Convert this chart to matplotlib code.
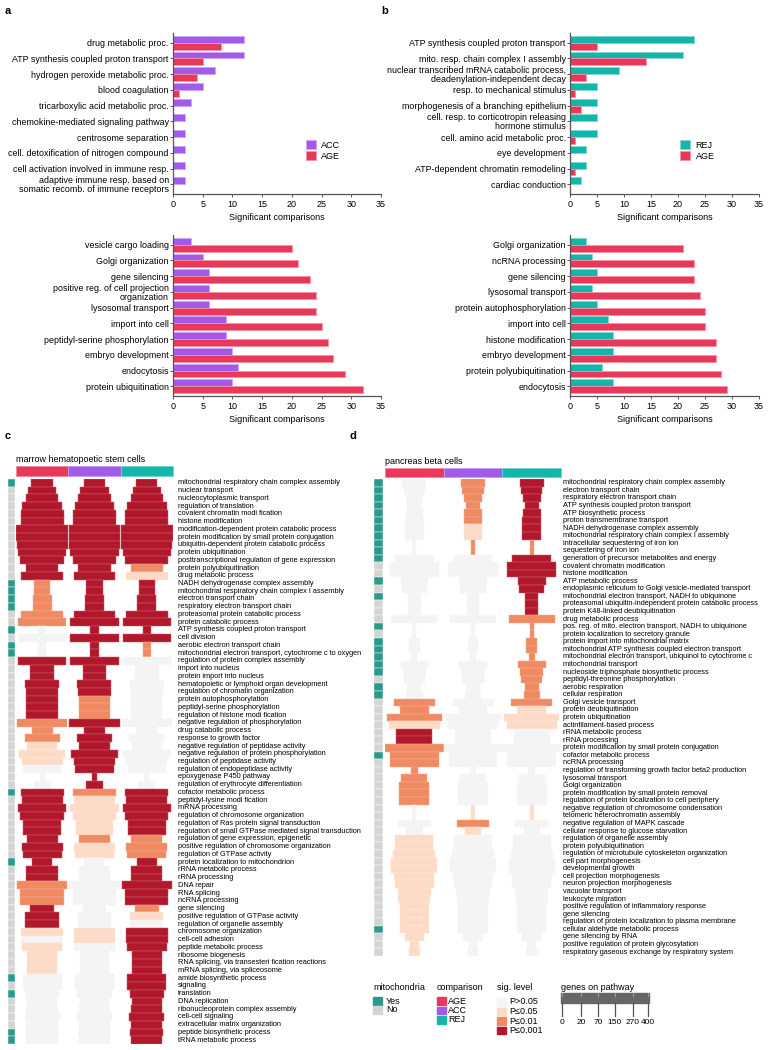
import numpy as np
import matplotlib.pyplot as plt
from matplotlib.colors import to_rgb

plt.rcParams['font.family'] = ['Liberation Sans', 'DejaVu Sans']

# ---- colours
col_age = '#e9385a'
col_acc = '#a25be8'
col_rej = '#14b6aa'
sig_colors = ['#f4f4f4', '#fddbc7', '#ef8a62', '#b2182b']
sig_labels = ['P>0.05', 'P\u22640.05', 'P\u22640.01', 'P\u22640.001']
mito_colors = ['#d4d4d4', '#2a9a8b']

# ---- panel a / b bar data
a_top_cats = ['drug metabolic proc.', 'ATP synthesis coupled proton transport',
              'hydrogen peroxide metabolic proc.', 'blood coagulation',
              'tricarboxylic acid metabolic proc.', 'chemokine-mediated signaling pathway',
              'centrosome separation', 'cell. detoxification of nitrogen compound',
              'cell activation involved in immune resp.',
              'adaptive immune resp. based on\nsomatic recomb. of immune receptors']
a_top_acc = [12, 12, 7, 5, 3, 2, 2, 2, 2, 2]
a_top_age = [8, 5, 4, 1, 0, 0, 0, 0, 0, 0]

a_bot_cats = ['vesicle cargo loading', 'Golgi organization', 'gene silencing',
              'positive reg. of cell projection\norganization', 'lysosomal transport',
              'import into cell', 'peptidyl-serine phosphorylation', 'embryo development',
              'endocytosis', 'protein ubiquitination']
a_bot_acc = [3, 5, 6, 6, 6, 9, 9, 10, 11, 10]
a_bot_age = [20, 21, 23, 24, 24, 25, 26, 27, 29, 32]

b_top_cats = ['ATP synthesis coupled proton transport', 'mito. resp. chain complex I assembly',
              'nuclear transcribed mRNA catabolic process,\ndeadenylation-independent decay',
              'resp. to mechanical stimulus', 'morphogenesis of a branching epithelium',
              'cell. resp. to corticotropin releasing\nhormone stimulus',
              'cell. amino acid metabolic proc.', 'eye development',
              'ATP-dependent chromatin remodeling', 'cardiac conduction']
b_top_rej = [23, 21, 9, 5, 5, 5, 5, 3, 3, 2]
b_top_age = [5, 14, 3, 1, 2, 0, 1, 0, 1, 0]

b_bot_cats = ['Golgi organization', 'ncRNA processing', 'gene silencing', 'lysosomal transport',
              'protein autophosphorylation', 'import into cell', 'histone modification',
              'embryo development', 'protein polyubiquitination', 'endocytosis']
b_bot_rej = [3, 4, 5, 4, 5, 7, 8, 8, 6, 8]
b_bot_age = [21, 23, 23, 24, 25, 25, 27, 27, 28, 29]

# ---- panel c data (marrow hematopoetic stem cells)
c_terms = [
    'mitochondrial respiratory chain complex assembly', 'nuclear transport',
    'nucleocytoplasmic transport', 'regulation of translation',
    'covalent chromatin modi fication', 'histone modification',
    'modification-dependent protein catabolic process',
    'protein modification by small protein conjugation',
    'ubiquitin-dependent protein catabolic process', 'protein ubiquitination',
    'posttranscriptional regulation of gene expression', 'protein polyubiquitination',
    'drug metabolic process', 'NADH dehydrogenase complex assembly',
    'mitochondrial respiratory chain complex I assembly', 'electron transport chain',
    'respiratory electron transport chain', 'proteasomal protein catabolic process',
    'protein catabolic process', 'ATP synthesis coupled proton transport', 'cell division',
    'aerobic electron transport chain',
    'mitochondrial electron transport, cytochrome c to oxygen',
    'regulation of protein complex assembly', 'import into nucleus',
    'protein import into nucleus', 'hematopoietic or lymphoid organ development',
    'regulation of chromatin organization', 'protein autophosphorylation',
    'peptidyl-serine phosphorylation', 'regulation of histone modi fication',
    'negative regulation of phosphorylation', 'drug catabolic process',
    'response to growth factor', 'negative regulation of peptidase activity',
    'negative regulation of protein phosphorylation', 'regulation of peptidase activity',
    'regulation of endopeptidase activity', 'epoxygenase P450 pathway',
    'regulation of erythrocyte differentiation', 'cofactor metabolic process',
    'peptidyl-lysine modi fication', 'mRNA processing',
    'regulation of chromosome organization', 'regulation of Ras protein signal transduction',
    'regulation of small GTPase mediated signal transduction',
    'regulation of gene expression, epigenetic', 'positive regulation of chromosome organization',
    'regulation of GTPase activity', 'protein localization to mitochondrion',
    'rRNA metabolic process', 'rRNA processing', 'DNA repair', 'RNA splicing',
    'ncRNA processing', 'gene silencing', 'positive regulation of GTPase activity',
    'regulation of organelle assembly', 'chromosome organization', 'cell-cell adhesion',
    'peptide metabolic process', 'ribosome biogenesis',
    'RNA splicing, via transesteri fication reactions', 'mRNA splicing, via spliceosome',
    'amide biosynthetic process', 'signaling', 'translation', 'DNA replication',
    'ribonucleoprotein complex assembly', 'cell-cell signaling',
    'extracellular matrix organization', 'peptide biosynthetic process',
    'tRNA metabolic process']
c_genes = [67, 117, 154, 231, 269, 269, 392, 392, 376, 339,
           276, 154, 256, 38, 38, 52, 52, 256, 339, 10,
           339, 10, 10, 339, 81, 81, 169, 154, 144, 144,
           144, 369, 64, 180, 135, 317, 243, 213, 4, 41,
           269, 243, 339, 276, 207, 207, 139, 243, 225, 58,
           144, 144, 369, 276, 276, 81, 164, 164, 256, 256,
           237, 130, 130, 130, 225, 225, 174, 130, 144, 180,
           144, 164, 144]
c_sig_age = [3, 3, 3, 3, 3, 3, 3, 3, 3, 3,
             3, 3, 3, 2, 2, 2, 2, 2, 2, 0,
             0, 0, 0, 3, 3, 3, 3, 3, 3, 3,
             3, 2, 2, 2, 1, 1, 1, 0, 0, 0,
             3, 3, 3, 3, 3, 3, 3, 3, 3, 3,
             3, 3, 2, 2, 2, 3, 3, 3, 1, 0,
             1, 1, 1, 1, 0, 0, 0, 0, 0, 0,
             0, 0, 0]
c_sig_acc = [3, 3, 3, 3, 3, 3, 3, 3, 3, 3,
             3, 3, 3, 3, 3, 3, 3, 3, 3, 3,
             3, 3, 3, 3, 3, 3, 3, 3, 2, 2,
             2, 3, 3, 3, 3, 3, 3, 3, 3, 3,
             2, 1, 1, 1, 1, 1, 2, 1, 1, 0,
             0, 0, 0, 0, 0, 0, 0, 0, 1, 1,
             0, 0, 0, 0, 0, 0, 0, 0, 0, 0,
             0, 0, 0]
c_sig_rej = [3, 3, 3, 3, 3, 3, 3, 3, 3, 3,
             3, 2, 1, 3, 3, 3, 3, 3, 3, 3,
             3, 2, 2, 0, 0, 0, 0, 0, 0, 0,
             0, 0, 0, 0, 0, 0, 0, 0, 0, 0,
             3, 3, 3, 3, 3, 3, 2, 2, 2, 3,
             3, 3, 3, 3, 3, 2, 1, 0, 3, 3,
             3, 3, 3, 3, 3, 3, 3, 3, 3, 3,
             3, 3, 3]
c_mito = [1, 0, 0, 0, 0, 0, 0, 0, 0, 0,
          0, 0, 0, 1, 1, 1, 1, 0, 0, 1,
          0, 1, 1, 0, 0, 0, 0, 0, 0, 0,
          0, 0, 0, 0, 0, 0, 0, 0, 0, 0,
          1, 0, 0, 0, 0, 0, 0, 0, 0, 1,
          0, 0, 0, 0, 0, 0, 0, 0, 0, 0,
          0, 0, 0, 0, 1, 0, 1, 0, 0, 0,
          0, 1, 1]

# ---- panel d data (pancreas beta cells)
d_terms = [
    'mitochondrial respiratory chain complex assembly', 'electron transport chain',
    'respiratory electron transport chain', 'ATP synthesis coupled proton transport',
    'ATP biosynthetic process', 'proton transmembrane transport',
    'NADH dehydrogenase complex assembly', 'mitochondrial respiratory chain complex I assembly',
    'intracellular sequestering of iron ion', 'sequestering of iron ion',
    'generation of precursor metabolites and energy', 'covalent chromatin modification',
    'histone modification', 'ATP metabolic process',
    'endoplasmic reticulum to Golgi vesicle-mediated transport',
    'mitochondrial electron transport, NADH to ubiquinone',
    'proteasomal ubiquitin-independent protein catabolic process',
    'protein K48-linked deubiquitination', 'drug metabolic process',
    'pos. reg. of mito. electron transport, NADH to ubiquinone',
    'protein localization to secretory granule', 'protein import into mitochondrial matrix',
    'mitochondrial ATP synthesis coupled electron transport',
    'mitochondrial electron transport, ubiquinol to cytochrome c', 'mitochondrial transport',
    'nucleoside triphosphate biosynthetic process', 'peptidyl-threonine phosphorylation',
    'aerobic respiration', 'cellular respiration', 'Golgi vesicle transport',
    'protein deubiquitination', 'protein ubiquitination', 'actinfilament-based process',
    'rRNA metabolic process', 'rRNA processing',
    'protein modification by small protein conjugation', 'cofactor metabolic process',
    'ncRNA processing', 'regulation of transforming growth factor beta2 production',
    'lysosomal transport', 'Golgi organization',
    'protein modification by small protein removal',
    'regulation of protein localization to cell periphery',
    'negative regulation of chromosome condensation', 'telomeric heterochromatin assembly',
    'negative regulation of MAPK cascade', 'cellular response to glucose starvation',
    'regulation of organelle assembly', 'protein polyubiquitination',
    'regulation of microtubule cytoskeleton organization', 'cell part morphogenesis',
    'developmental growth', 'cell projection morphogenesis', 'neuron projection morphogenesis',
    'vacuolar transport', 'leukocyte migration', 'positive regulation of inflammatory response',
    'gene silencing', 'regulation of protein localization to plasma membrane',
    'cellular aldehyde metabolic process', 'gene silencing by RNA',
    'positive regulation of protein glycosylation',
    'respiratory gaseous exchange by respiratory system']
d_genes = [67, 52, 36, 23, 36, 41, 41, 41, 2, 2,
           174, 282, 282, 88, 74, 19, 19, 19, 243, 2,
           2, 13, 13, 4, 88, 64, 52, 23, 31, 196,
           96, 353, 296, 149, 149, 400, 276, 276, 5, 77,
           104, 104, 104, 2, 2, 125, 31, 169, 169, 202,
           243, 243, 185, 174, 130, 117, 100, 100, 100, 100,
           44, 9, 13]
d_sig_age = [0, 0, 0, 0, 0, 0, 0, 0, 0, 0,
             0, 0, 0, 0, 0, 0, 0, 0, 0, 0,
             0, 0, 0, 0, 0, 0, 0, 0, 0, 2,
             2, 2, 1, 3, 3, 2, 2, 2, 2, 2,
             2, 2, 2, 0, 0, 0, 0, 1, 1, 1,
             1, 1, 1, 1, 1, 1, 1, 1, 1, 1,
             1, 1, 1]
d_sig_acc = [2, 2, 2, 2, 2, 2, 1, 1, 2, 2,
             0, 0, 0, 0, 0, 0, 0, 0, 0, 0,
             0, 0, 0, 0, 0, 0, 0, 0, 0, 0,
             0, 0, 0, 0, 0, 0, 0, 0, 0, 0,
             0, 0, 0, 1, 1, 2, 1, 0, 0, 0,
             0, 0, 0, 0, 0, 0, 0, 0, 0, 0,
             0, 0, 0]
d_sig_rej = [3, 3, 3, 3, 3, 3, 3, 3, 2, 2,
             3, 3, 3, 3, 3, 3, 3, 3, 2, 2,
             2, 2, 2, 2, 2, 2, 2, 2, 2, 2,
             1, 1, 1, 0, 0, 0, 0, 0, 0, 0,
             0, 0, 0, 1, 1, 0, 0, 0, 0, 0,
             0, 0, 0, 0, 0, 0, 0, 0, 0, 0,
             0, 0, 0]
d_mito = [1, 1, 1, 1, 1, 1, 1, 1, 1, 1,
          1, 0, 0, 1, 0, 1, 0, 0, 0, 1,
          0, 1, 1, 1, 1, 1, 0, 1, 1, 0,
          0, 0, 0, 0, 0, 0, 1, 0, 0, 0,
          0, 0, 0, 0, 0, 0, 0, 0, 0, 0,
          0, 0, 0, 0, 0, 0, 0, 0, 0, 1,
          0, 0, 0]

comparisons = ['AGE', 'ACC', 'REJ']
gene_ticks = [0, 20, 70, 150, 270, 400]
gene_max = 400

W, H = 769, 1050
fig = plt.figure(figsize=(W / 100, H / 100), dpi=100)


def rect(x0, y0, x1, y1):
    return [x0 / W, 1 - y1 / H, (x1 - x0) / W, (y1 - y0) / H]


def lighten(c, f):
    r = np.array(to_rgb(c))
    return tuple(r + (1 - r) * f)


def bar_panel(box, cats, v1, v2, c1, c2, n1, n2, leg=None):
    ax = fig.add_axes(rect(*box))
    y = np.arange(len(cats))
    for vals, c, off, name in [(v1, c1, -0.22, n1), (v2, c2, 0.22, n2)]:
        vals = np.array(vals, dtype=float)
        m = vals > 0
        ax.barh(y[m] + off, vals[m], height=0.44, color=c, edgecolor=lighten(c, 0.45),
                linewidth=0.6, label=name)
    ax.set_xlim(0, 35)
    ax.set_ylim(len(cats) - 1 + 0.62, -0.62)
    ax.set_xticks(range(0, 36, 5))
    ax.set_yticks(y)
    ax.set_yticklabels(cats, fontsize=6.4, linespacing=0.95)
    ax.tick_params(axis='x', labelsize=6.5, length=2.5, width=0.7, color='#555555', pad=1.5)
    ax.tick_params(axis='y', length=2, width=0.7, color='#555555', pad=1)
    for s in ['top', 'right']:
        ax.spines[s].set_visible(False)
    for s in ['left', 'bottom']:
        ax.spines[s].set_color('#555555')
        ax.spines[s].set_linewidth(0.9)
    ax.set_xlabel('Significant comparisons', fontsize=6.5, labelpad=3)
    if leg is not None:
        ax.legend(loc='center left', bbox_to_anchor=leg, frameon=False, fontsize=6.5,
                  handlelength=1.1, handleheight=1.2, handletextpad=0.6, labelspacing=0.15)
    return ax


bar_panel((173, 33, 381, 194), a_top_cats, a_top_acc, a_top_age, col_acc, col_age,
          'ACC', 'AGE', leg=(0.6, 0.27))
bar_panel((570, 33, 759, 194), b_top_cats, b_top_rej, b_top_age, col_rej, col_age,
          'REJ', 'AGE', leg=(0.54, 0.27))
bar_panel((173, 235, 381, 396), a_bot_cats, a_bot_acc, a_bot_age, col_acc, col_age,
          'ACC', 'AGE')
bar_panel((570, 235, 759, 396), b_bot_cats, b_bot_rej, b_bot_age, col_rej, col_age,
          'REJ', 'AGE')


def heat_panel(x0, col_w, y0, row_h, title, terms, genes, sigs, mito, mito_x, lab_gap,
               strip_y):
    n = len(terms)
    ax = fig.add_axes(rect(x0, y0, x0 + 3 * col_w, y0 + n * row_h))
    ax.set_xlim(0, 3)
    ax.set_ylim(n, 0)
    ax.axis('off')
    rows = np.arange(n) + 0.5
    frac = np.sqrt(np.array(genes) / gene_max)
    for j, s in enumerate(sigs):
        cols = [sig_colors[k] for k in s]
        ax.barh(rows, frac, left=j + 0.5 - frac / 2, height=1.0, color=cols,
                edgecolor=[lighten(c, 0.3) for c in cols], linewidth=0.35)
    # comparison colour strip
    s0, s1 = (strip_y[0] - y0) / row_h, (strip_y[1] - y0) / row_h
    ax.bar(np.arange(3) + 0.5, s1 - s0, bottom=s0, width=1.0,
           color=[col_age, col_acc, col_rej],
           edgecolor=[lighten(c, 0.4) for c in [col_age, col_acc, col_rej]],
           linewidth=0.6, clip_on=False)
    ax.text(0, s0 - 1.8 / row_h, title, fontsize=6.5, va='bottom', ha='left')
    # mitochondria strip
    mx0, mx1 = (mito_x[0] - x0) / col_w, (mito_x[1] - x0) / col_w
    ax.barh(rows, mx1 - mx0, left=mx0, height=1.0,
            color=[mito_colors[m] for m in mito], edgecolor='white', linewidth=0.3,
            clip_on=False)
    for r, t in zip(rows, terms):
        ax.text(3 + lab_gap / col_w, r, t, fontsize=5.3, va='center', ha='left',
                clip_on=False)
    return ax


heat_panel(16, 52.3, 479, 7.74, 'marrow hematopoetic stem cells', c_terms, c_genes,
           [c_sig_age, c_sig_acc, c_sig_rej], c_mito, (8, 15), 5, (466, 476))
heat_panel(385, 58.7, 479, 7.57, 'pancreas beta cells', d_terms, d_genes,
           [d_sig_age, d_sig_acc, d_sig_rej], d_mito, (374, 383), 2, (468, 477))

# ---- panel letters
for lab, x, y in [('a', 5, 11), ('b', 381, 11), ('c', 5, 436), ('d', 350, 436)]:
    fig.text(x / W, 1 - y / H, lab, fontsize=8, fontweight='bold', va='center')

# ---- legends (pixel overlay)
lg = fig.add_axes([0, 0, 1, 1])
lg.set_xlim(0, W)
lg.set_ylim(H, 0)
lg.axis('off')

lg.text(373, 987, 'mitochondria', fontsize=6.5, va='center')
for i, (lab, c) in enumerate(zip(['Yes', 'No'], [mito_colors[1], mito_colors[0]])):
    lg.add_patch(plt.Rectangle((373, 997 + i * 9), 9, 7.5, color=c))
    lg.text(386, 1001 + i * 9, lab, fontsize=6.5, va='center')

lg.text(437, 987, 'comparison', fontsize=6.5, va='center')
for i, (lab, c) in enumerate(zip(comparisons, [col_age, col_acc, col_rej])):
    lg.add_patch(plt.Rectangle((437, 997 + i * 9.5), 8.5, 7.5, color=c))
    lg.text(448, 1001 + i * 9.5, lab, fontsize=6.5, va='center')

lg.text(497, 987, 'sig. level', fontsize=6.5, va='center')
for i, (lab, c) in enumerate(zip(sig_labels, sig_colors)):
    lg.add_patch(plt.Rectangle((497, 998 + i * 9.5), 8.5, 7.5, color=c))
    lg.text(509, 1002 + i * 9.5, lab, fontsize=6.5, va='center')

lg.text(561, 987, 'genes on pathway', fontsize=6.5, va='center')
gx0, gx1 = 562, 648
lg.add_patch(plt.Rectangle((gx0 - 1, 993), gx1 - gx0 + 2, 10, color='#666666'))
for g in gene_ticks:
    gx = gx0 + (gx1 - gx0) * np.sqrt(g / gene_max)
    lg.plot([gx, gx], [1003, 1016], color='#555555', lw=0.9)
    lg.plot([gx, gx], [993, 995.5], color='#aaaaaa', lw=0.6)
    lg.text(gx, 1023, str(g), fontsize=6.0, ha='center', va='center')

fig.savefig('out.png', dpi=100)
